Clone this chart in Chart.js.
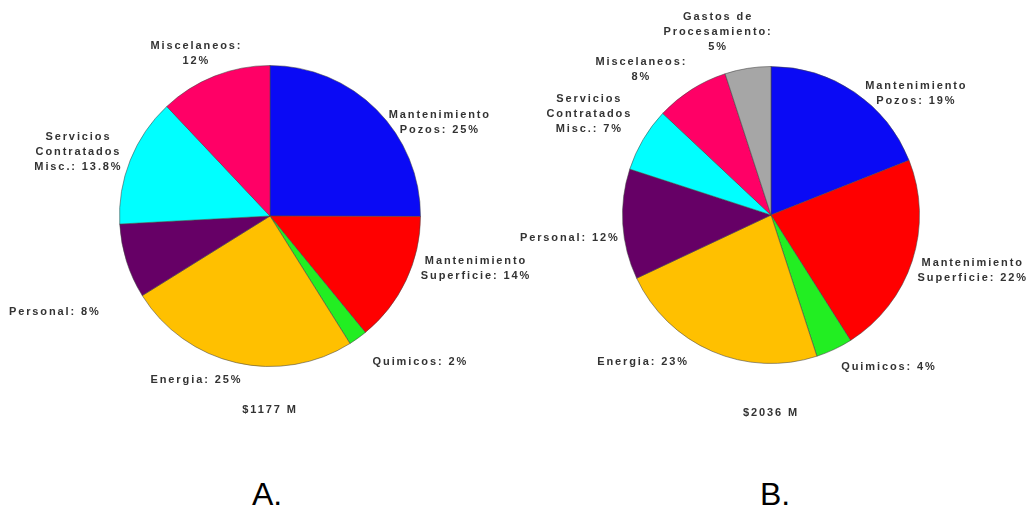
<!DOCTYPE html>
<html lang="es">
<head>
    <meta charset="UTF-8">
    <title>Distribución de costos A y B</title>
    <script src="https://cdn.jsdelivr.net/npm/chart.js"></script>
    <style>
        body {
            margin: 0;
            background: #fff;
            width: 1029px;
            height: 515px;
            position: relative;
            overflow: hidden;
            font-family: "Liberation Sans", Arial, sans-serif;
        }
        .pie {
            position: absolute;
            top: 0;
            height: 430px;
        }
        #boxA { left: 0; width: 560px; }
        #boxB { left: 515px; width: 514px; }
        .tag {
            position: absolute;
            top: 476px;
            font-size: 32px;
            color: #000;
        }
    </style>
</head>
<body>
    <div class="pie" id="boxA"><canvas id="pieA"></canvas></div>
    <div class="pie" id="boxB"><canvas id="pieB"></canvas></div>
    <div class="tag" style="left:252px">A.</div>
    <div class="tag" style="left:760px">B.</div>

    <script>
        // datos gráfica A (un "\n" al final = el porcentaje va en otra línea)
        const labelsA = ["Mantenimiento\nPozos:", "Mantenimiento\nSuperficie:", "Quimicos:", "Energia:", "Personal:", "Servicios\nContratados\nMisc.:", "Miscelaneos:\n"];
        const valuesA = [25, 14, 2, 25, 8, 13.8, 12];
        const totalA = "$1177 M";

        // datos gráfica B
        const labelsB = ["Mantenimiento\nPozos:", "Mantenimiento\nSuperficie:", "Quimicos:", "Energia:", "Personal:", "Servicios\nContratados\nMisc.:", "Miscelaneos:\n", "Gastos de\nProcesamiento:\n"];
        const valuesB = [19, 22, 4, 23, 12, 7, 8, 5];
        const totalB = "$2036 M";

        const coloresA = ['#0a0af5', '#ff0000', '#22ee22', '#ffc000', '#660066', '#00ffff', '#ff0066'];
        const coloresB = ['#0a0af5', '#ff0000', '#22ee22', '#ffc000', '#660066', '#00ffff', '#ff0066', '#a6a6a6'];

        // ajuste de las etiquetas respecto al ángulo medio de cada sector
        const ajusteA = [[42, 34], [43, -25], [45, -1], [-33, -12], [-43, 42], [-24, 3], [-7, 5]];
        const ajusteB = [[45, 26], [32, 0], [42, -10], [-57, -17], [-23, 12], [-28, -10], [-34, 5], [-25, -7]];

        const etiquetasPlugin = {
            id: 'etiquetas',
            afterDraw(chart, args, opts) {
                const ctx = chart.ctx;
                const meta = chart.getDatasetMeta(0);
                const data = chart.data.datasets[0].data;
                ctx.save();
                ctx.font = 'bold 11px "Liberation Sans", Arial, sans-serif';
                ctx.letterSpacing = '1.9px';
                ctx.fillStyle = '#333';
                ctx.textAlign = 'center';
                ctx.textBaseline = 'middle';
                let cx = 0, cy = 0, r = 0;
                meta.data.forEach((arc, i) => {
                    const p = arc.getProps(['x', 'y', 'startAngle', 'endAngle', 'outerRadius'], true);
                    cx = p.x; cy = p.y; r = p.outerRadius;
                    const mid = (p.startAngle + p.endAngle) / 2;
                    const R = p.outerRadius + 30;
                    const ax = p.x + Math.cos(mid) * R + opts.ajuste[i][0];
                    const ay = p.y + Math.sin(mid) * R + opts.ajuste[i][1];
                    const lbl = chart.data.labels[i];
                    const texto = lbl.endsWith('\n') ? lbl + data[i] + '%' : lbl + ' ' + data[i] + '%';
                    const lines = texto.split('\n');
                    const h = 15;
                    const y0 = ay - (lines.length - 1) * h / 2;
                    lines.forEach((t, k) => ctx.fillText(t, ax, y0 + k * h));
                });
                ctx.fillText(opts.total, cx, cy + r + opts.totalGap);
                ctx.restore();
            }
        };

        function crearPie(id, labels, values, colores, ajuste, total, padding, totalGap) {
            const ctx = document.getElementById(id).getContext('2d');
            return new Chart(ctx, {
                type: 'pie',
                data: {
                    labels: labels,
                    datasets: [{
                        data: values,
                        backgroundColor: colores,
                        borderColor: 'rgba(70,70,70,0.55)',
                        borderWidth: 1,
                        hoverOffset: 0,
                        offset: 0
                    }]
                },
                options: {
                    responsive: true,
                    maintainAspectRatio: false,
                    animation: false,
                    events: [],
                    layout: { padding: padding },
                    plugins: {
                        legend: { display: false },
                        tooltip: { enabled: false },
                        etiquetas: { ajuste: ajuste, total: total, totalGap: totalGap }
                    }
                },
                plugins: [etiquetasPlugin]
            });
        }

        crearPie('pieA', labelsA, valuesA, coloresA, ajusteA, totalA,
            { left: 119, right: 139, top: 65, bottom: 63 }, 43);
        crearPie('pieB', labelsB, valuesB, coloresB, ajusteB, totalB,
            { left: 107, right: 109, top: 66, bottom: 66 }, 49);
    </script>
</body>
</html>
